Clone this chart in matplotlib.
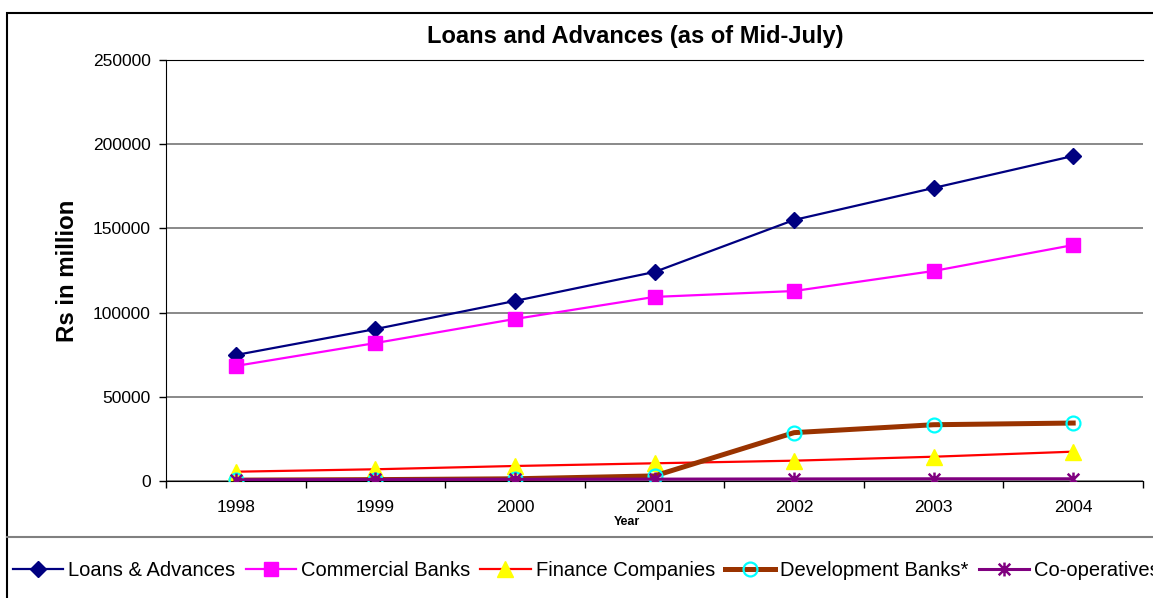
import matplotlib
matplotlib.use("Agg")
import matplotlib.pyplot as plt
from matplotlib.lines import Line2D
from matplotlib.patches import Rectangle
from matplotlib.path import Path

plt.rcParams["font.family"] = ["Liberation Sans", "DejaVu Sans"]

years = ["1998", "1999", "2000", "2001", "2002", "2003", "2004"]

loans_advances = [74800, 90200, 106900, 124100, 155000, 174000, 193000]
commercial_banks = [68300, 81900, 96200, 109300, 112800, 124700, 140100]
finance_companies = [5500, 6950, 8900, 10500, 12050, 14400, 17400]
development_banks = [500, 800, 1300, 3000, 28700, 33400, 34400]
co_operatives = [700, 900, 1000, 1100, 1200, 1300, 1300]

# star marker: an X crossed by a vertical stroke
star = Path(
    [(-1, -1), (1, 1), (-1, 1), (1, -1), (0, -1.2), (0, 1.2)],
    [Path.MOVETO, Path.LINETO, Path.MOVETO, Path.LINETO, Path.MOVETO, Path.LINETO],
)

fig = plt.figure(figsize=(11.53, 5.98), dpi=100)
ax = fig.add_axes([0.144, 0.1957, 0.8473, 0.704])

x = list(range(len(years)))

ax.plot(x, loans_advances, color="#000080", lw=1.6, marker="D", ms=8.5,
        mfc="#000080", mec="#000080", label="Loans & Advances", zorder=3)
ax.plot(x, commercial_banks, color="#FF00FF", lw=1.6, marker="s", ms=10,
        mfc="#FF00FF", mec="#FF00FF", label="Commercial Banks", zorder=3)
ax.plot(x, finance_companies, color="#FF0000", lw=1.6, marker="^", ms=11,
        mfc="#FFFF00", mec="#FFFF00", label="Finance Companies", zorder=3)
ax.plot(x, development_banks, color="#993300", lw=3.6, marker="o", ms=10,
        mfc="none", mec="#00FFFF", mew=1.6, label="Development Banks*", zorder=3)
ax.plot(x, co_operatives, color="#800080", lw=2.2, marker=star, ms=10,
        mfc="none", mec="#800080", mew=1.8, label="Co-operatives", zorder=3)

ax.set_xlim(-0.5, len(years) - 0.5)
ax.set_ylim(0, 250000)
ax.set_yticks(range(0, 250001, 50000))
ax.set_xticks(x)
ax.set_xticklabels(years)
ax.set_xticks([i - 0.5 for i in range(len(years) + 1)], minor=True)
ax.tick_params(axis="x", which="major", length=0, pad=14, labelsize=12.5)
ax.tick_params(axis="x", which="minor", length=5, width=1, direction="out")
ax.tick_params(axis="y", length=5, width=1, direction="out", pad=6, labelsize=12.5)

ax.grid(axis="y", color="#808080", lw=1.3)
ax.set_axisbelow(True)
ax.spines["right"].set_visible(False)
for side in ("top", "left", "bottom"):
    ax.spines[side].set_color("black")

fig.text(635 / 1153, 1 - 37 / 598, "Loans and Advances (as of Mid-July)",
         fontsize=17, fontweight="bold", ha="center", va="center")
fig.text(67 / 1153, 1 - 271 / 598, "Rs in million", fontsize=17.3,
         fontweight="bold", rotation=90, ha="center", va="center")
fig.text(627 / 1153, 1 - 522 / 598, "Year", fontsize=9, fontweight="bold",
         ha="center", va="center")

# chart frame and legend separator
fig.add_artist(Rectangle((7 / 1153, -0.1), 1.2, 1 - 13 / 598 + 0.1,
                         transform=fig.transFigure, fill=False, ec="black", lw=1.5))
fig.add_artist(Line2D([7 / 1153, 1.0], [1 - 537 / 598] * 2,
                      transform=fig.transFigure, color="#808080", lw=1.5))

fig.legend(loc="center left", bbox_to_anchor=(13 / 1153, 1 - 571 / 598), ncol=5,
           frameon=False, fontsize=14.5, handlelength=2.5, handletextpad=0.25,
           columnspacing=0.5, borderpad=0, borderaxespad=0)

fig.savefig("out.png", dpi=100)
